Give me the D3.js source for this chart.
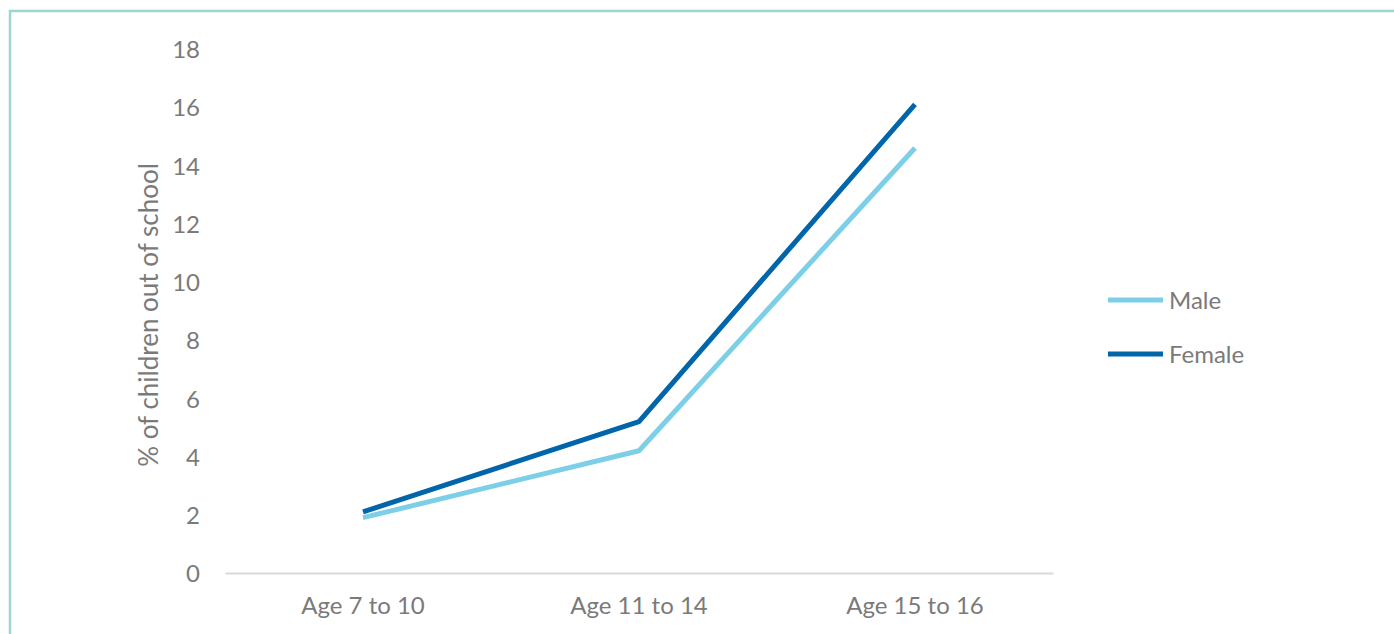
<!DOCTYPE html>
<html>
<head>
<meta charset="utf-8">
<script src="https://cdn.jsdelivr.net/npm/d3@7"></script>
<style>
  html, body { margin: 0; padding: 0; background: #ffffff; }
  svg { display: block; }
  text { font-family: Lato, "Open Sans", sans-serif; fill: #7a7a7a; }
</style>
</head>
<body>
<svg id="chart" width="1394" height="634"></svg>
<script>
const categories = ["Age 7 to 10", "Age 11 to 14", "Age 15 to 16"];
const maleValues = [1.9, 4.2, 14.6];
const femaleValues = [2.1, 5.2, 16.1];
const yTicks = [0, 2, 4, 6, 8, 10, 12, 14, 16, 18];
const seriesNames = ["Male", "Female"];
const seriesColors = ["#7dcfe8", "#0065a9"];
const yTitle = "% of children out of school";

const svg = d3.select("#chart");

// outer border
svg.append("rect")
  .attr("x", 10).attr("y", 11)
  .attr("width", 1400).attr("height", 640)
  .attr("fill", "none")
  .attr("stroke", "#9dd5cf")
  .attr("stroke-width", 2.5);

const x = d3.scaleBand().domain(categories).range([225, 1053]);
const y = d3.scaleLinear().domain([0, 18]).range([573, 49]);

// y tick labels
const yAxis = d3.axisLeft(y).tickValues(yTicks).tickSize(0).tickPadding(0);
const gy = svg.append("g").attr("transform", "translate(200,1)").call(yAxis);
gy.select(".domain").remove();
gy.selectAll("text")
  .style("font-family", "Lato, 'Open Sans', sans-serif")
  .attr("font-size", 24).attr("fill", "#7a7a7a");

// x axis
const xAxis = d3.axisBottom(x).tickSize(0).tickPadding(24);
const gx = svg.append("g").attr("transform", `translate(0,${y(0)})`).call(xAxis);
gx.select(".domain").attr("stroke", "#d9d9d9").attr("stroke-width", 2);
gx.selectAll("text")
  .style("font-family", "Lato, 'Open Sans', sans-serif")
  .attr("font-size", 24).attr("fill", "#7a7a7a");

// y title
svg.append("text")
  .attr("transform", `translate(158,${(y(0) + y(18)) / 2 + 4}) rotate(-90)`)
  .attr("text-anchor", "middle")
  .attr("font-size", 26)
  .text(yTitle);

const line = d3.line()
  .x((d, i) => x(categories[i]) + x.bandwidth() / 2)
  .y(d => y(d));

const seriesData = [maleValues, femaleValues];
seriesData.forEach((vals, k) => {
  svg.append("path")
    .datum(vals)
    .attr("fill", "none")
    .attr("stroke", seriesColors[k])
    .attr("stroke-width", 5)
    .attr("stroke-linejoin", "round")
    .attr("stroke-linecap", "butt")
    .attr("d", line);
});

// legend
const legendY = [300, 354];
seriesNames.forEach((name, k) => {
  svg.append("line")
    .attr("x1", 1108).attr("x2", 1163)
    .attr("y1", legendY[k]).attr("y2", legendY[k])
    .attr("stroke", seriesColors[k]).attr("stroke-width", 5);
  svg.append("text")
    .attr("x", 1169).attr("y", legendY[k] + 1)
    .attr("dy", "0.35em")
    .attr("font-size", 24)
    .text(name);
});
</script>
</body>
</html>
